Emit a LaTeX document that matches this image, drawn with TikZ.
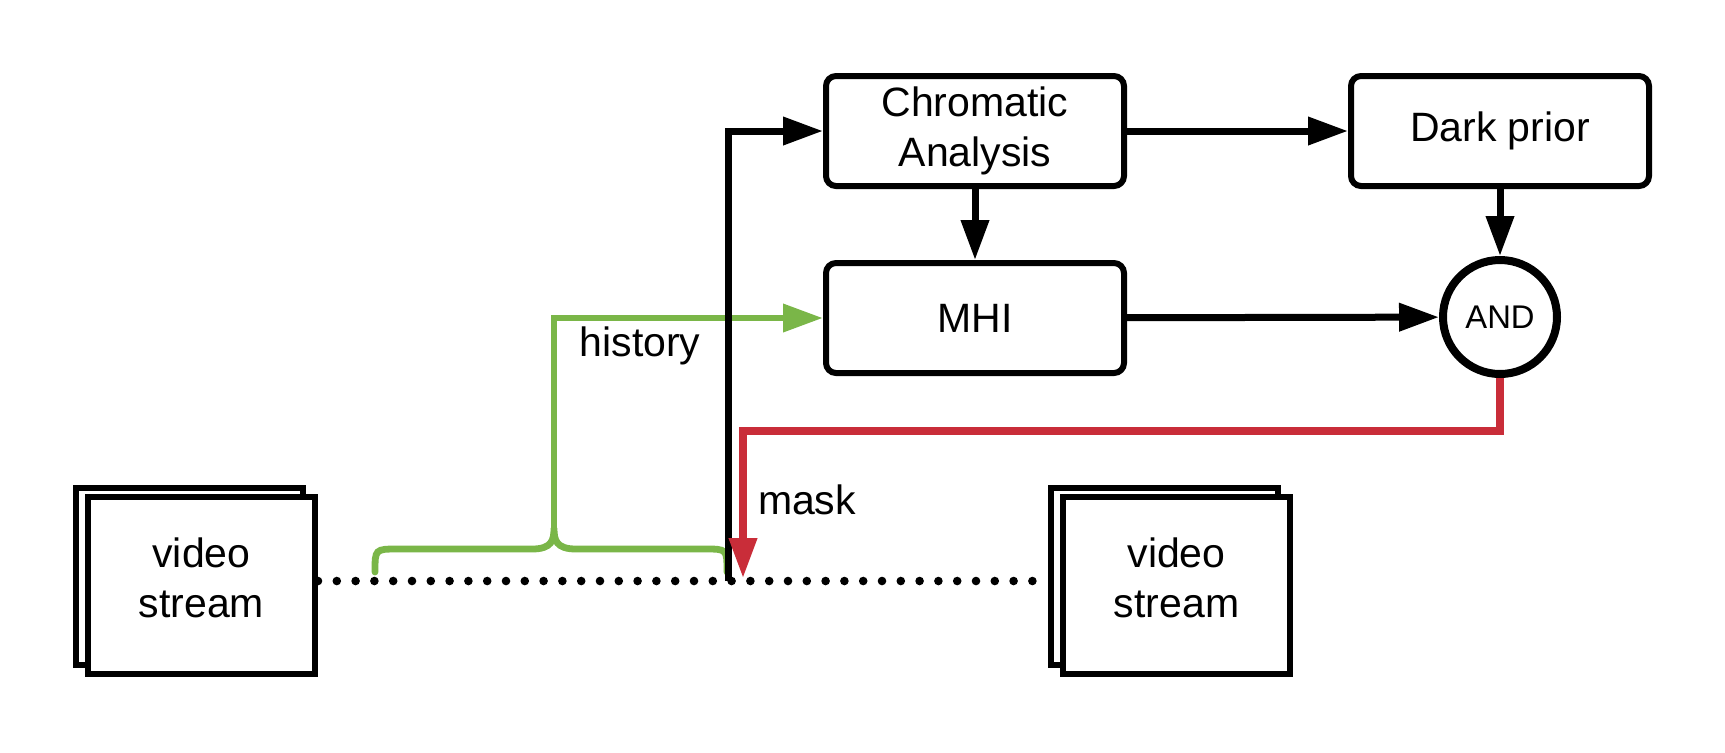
\documentclass[tikz,border=0pt]{standalone}
\usepackage{fontspec}
\setmainfont{Liberation Sans}
\usetikzlibrary{arrows.meta}
\definecolor{lgreen}{HTML}{7AB648}
\definecolor{lred}{HTML}{C92D39}
\begin{document}
\begin{tikzpicture}[x=0.5pt,y=-0.5pt,
  txt/.style={font=\fontsize{20.5}{25}\selectfont},
  proc/.style={draw, line width=3pt, rounded corners=5pt, fill=white,
    minimum width=149pt, minimum height=55pt, align=center, inner sep=0pt, txt},
  frame/.style={draw, line width=3pt, fill=white, minimum width=113.5pt,
    minimum height=88.5pt, align=center, inner sep=0pt, txt},
  andnode/.style={circle, draw, line width=4pt, fill=white, minimum size=57pt,
    inner sep=0pt, font=\fontsize{16.4}{19}\selectfont},
  tip/.style={-{Triangle[length=20pt,width=13.5pt]}},
  conn/.style={line width=3.5pt, tip},
  gline/.style={draw=lgreen, line width=3.4pt},
  rline/.style={draw=lred, line width=3.6pt},
  dots/.style={line width=4.3pt, line cap=round, dash pattern=on 0pt off 9.4pt}
]
\useasboundingbox (0,0) rectangle (1725,752);

% video streams
\node[frame] (vs1b) at (189.5,576.5) {};
\node[frame, text depth=8pt] (vs1) at (201.5,585.5) {video\\stream};
\node[frame] (vs2b) at (1164.5,576.5) {};
\node[frame, text depth=8pt] (vs2) at (1176.5,585.5) {video\\stream};

% dotted time line
\coordinate (dstart) at (318,581);
\coordinate (dend) at (1040,581);
\draw[dots] (dstart) -- (dend);

% process boxes
\node[proc] (ca) at (975,131) {Chromatic\\Analysis};
\node[proc] (mhi) at (975,318) {MHI};
\node[proc] (dp) at (1500,131) {Dark prior};
\node[andnode] (and) at (1500,317) {AND};

% connectors between boxes
\draw[conn] (ca) -- (dp);
\draw[conn] (ca) -- (mhi);
\draw[conn] (dp) -- (and);
\draw[conn] (mhi) -- (and);

% history brace
\coordinate (btip) at (554,528);
\draw[gline, line cap=round] (375,572) .. controls (375,549) .. (398,549) -- (532,549)
  .. controls (552,549) and (554,540) .. (btip)
  .. controls (554,540) and (556,549) .. (576,549) -- (705,549)
  .. controls (727,549) .. (727,572);
\draw[gline, tip] (btip) |- (mhi.west);
\node[txt] (hist) at (640,346) {history};

% frame input to chromatic analysis
\coordinate (bstart) at (728,581);
\draw[conn] (bstart) |- (ca.west);

% mask output
\coordinate (rbend) at (743,431);
\coordinate (mtip) at (743,578);
\draw[rline, tip] (and.south) |- (rbend) -- (mtip);
\node[txt] (mask) at (807,500) {mask};
\end{tikzpicture}
\end{document}
